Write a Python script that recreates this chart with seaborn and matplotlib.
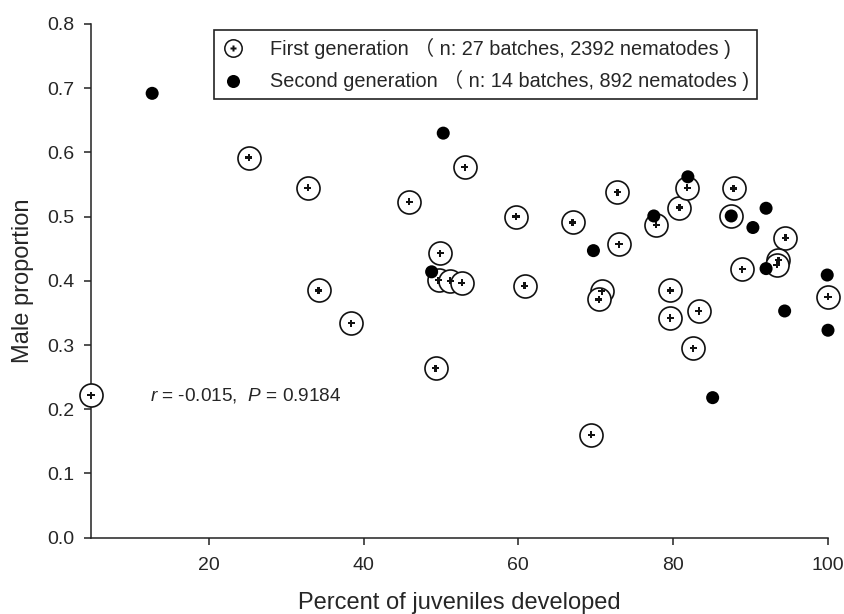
import matplotlib
matplotlib.use("Agg")
import matplotlib.pyplot as plt
import seaborn as sns
import pandas as pd
from matplotlib.lines import Line2D
from matplotlib.legend_handler import HandlerTuple

# ---- data ----
gen1_x = [4.8, 25.2, 32.8, 34.2, 38.4, 45.9, 53.1, 59.7, 49.9, 49.7, 51.2, 52.7,
          49.3, 60.8, 67.0, 72.8, 73.0, 70.8, 70.4, 69.4, 77.8, 80.8, 81.8, 87.8,
          87.5, 79.6, 79.6, 83.3, 82.6, 88.9, 94.5, 93.6, 93.4, 100.0]
gen1_y = [0.222, 0.592, 0.545, 0.385, 0.334, 0.523, 0.577, 0.500, 0.443, 0.401,
          0.400, 0.397, 0.264, 0.392, 0.491, 0.538, 0.457, 0.384, 0.371, 0.160,
          0.487, 0.514, 0.545, 0.544, 0.501, 0.385, 0.342, 0.353, 0.295, 0.418,
          0.467, 0.432, 0.425, 0.375]
gen2_x = [12.7, 50.3, 48.8, 69.7, 77.5, 81.9, 87.5, 92.0, 90.3, 92.0, 99.9, 94.4, 100.0, 85.1]
gen2_y = [0.692, 0.630, 0.414, 0.447, 0.501, 0.562, 0.501, 0.513, 0.483, 0.419,
          0.409, 0.353, 0.323, 0.218]

x_ticks = [20, 40, 60, 80, 100]
y_ticks = [0.0, 0.1, 0.2, 0.3, 0.4, 0.5, 0.6, 0.7, 0.8]
label_gen1 = "First generation （ n: 27 batches, 2392 nematodes )"
label_gen2 = "Second generation （ n: 14 batches, 892 nematodes )"
stat_text = "$r$ = -0.015,  $P$ = 0.9184"
x_label = "Percent of juveniles developed"
y_label = "Male proportion"

sns.set_style("ticks")
plt.rcParams["font.family"] = ["Liberation Sans", "Noto Sans CJK SC", "DejaVu Sans"]
plt.rcParams["mathtext.fontset"] = "custom"
plt.rcParams["mathtext.it"] = "Liberation Sans:italic"
plt.rcParams["mathtext.rm"] = "Liberation Sans"

df1 = pd.DataFrame({"x": gen1_x, "y": gen1_y})
df2 = pd.DataFrame({"x": gen2_x, "y": gen2_y})

fig = plt.figure(figsize=(8.45, 6.14), dpi=100)
ax = fig.add_axes([91 / 845, 1 - 537.6 / 614, (828 - 91) / 845, (537.6 - 24) / 614])

sns.scatterplot(data=df1, x="x", y="y", ax=ax, marker="o", s=275,
                facecolor="white", edgecolor="#111111", linewidth=1.2,
                clip_on=False, zorder=3)
sns.scatterplot(data=df1, x="x", y="y", ax=ax, marker="P", s=26,
                color="#111111", edgecolor="none", linewidth=0,
                clip_on=False, zorder=4)
sns.scatterplot(data=df2, x="x", y="y", ax=ax, marker="o", s=88,
                color="black", edgecolor="none", linewidth=0,
                clip_on=False, zorder=5)

ax.set_xlim(4.8, 100)
ax.set_ylim(0, 0.8)
ax.set_xticks(x_ticks)
ax.set_yticks(y_ticks)
ax.set_yticklabels([f"{v:.1f}" for v in y_ticks])
ax.set_xlabel(x_label, fontsize=17)
ax.set_ylabel(y_label, fontsize=17)
ax.xaxis.set_label_coords(0.5, (537.6 - 592) / 513.6)
ax.yaxis.set_label_coords((34 - 91) / 737, 0.5)
ax.tick_params(axis="both", labelsize=14, length=5.2, width=1.1, direction="out",
               color="#222222")
ax.tick_params(axis="x", pad=9)
ax.tick_params(axis="y", pad=7)
for side in ["top", "right"]:
    ax.spines[side].set_visible(False)
for side in ["left", "bottom"]:
    ax.spines[side].set_linewidth(1.1)
    ax.spines[side].set_color("#222222")

ax.text(12.4, 0.222, stat_text, fontsize=13.7, va="center", ha="left")

h_circ = Line2D([], [], marker="o", linestyle="none", markersize=12.5,
                markerfacecolor="white", markeredgecolor="#111111", markeredgewidth=1.1)
h_plus = Line2D([], [], marker="P", linestyle="none", markersize=5,
                markerfacecolor="#111111", markeredgecolor="none")
h_dot = Line2D([], [], marker="o", linestyle="none", markersize=9.4,
               markerfacecolor="black", markeredgecolor="none")
leg = ax.legend([(h_circ, h_plus), h_dot], [label_gen1, label_gen2],
                handler_map={tuple: HandlerTuple(ndivide=1)},
                loc="upper left", bbox_to_anchor=(214 / 845, 1 - 30 / 614),
                bbox_transform=fig.transFigure, borderaxespad=0,
                fontsize=14.3, frameon=True, fancybox=False, framealpha=1,
                handlelength=1.2, handletextpad=1.25, borderpad=0.38,
                labelspacing=0.6)
leg.get_frame().set_edgecolor("#222222")
leg.get_frame().set_linewidth(1.2)

fig.savefig("out.png", dpi=100, facecolor="white")
